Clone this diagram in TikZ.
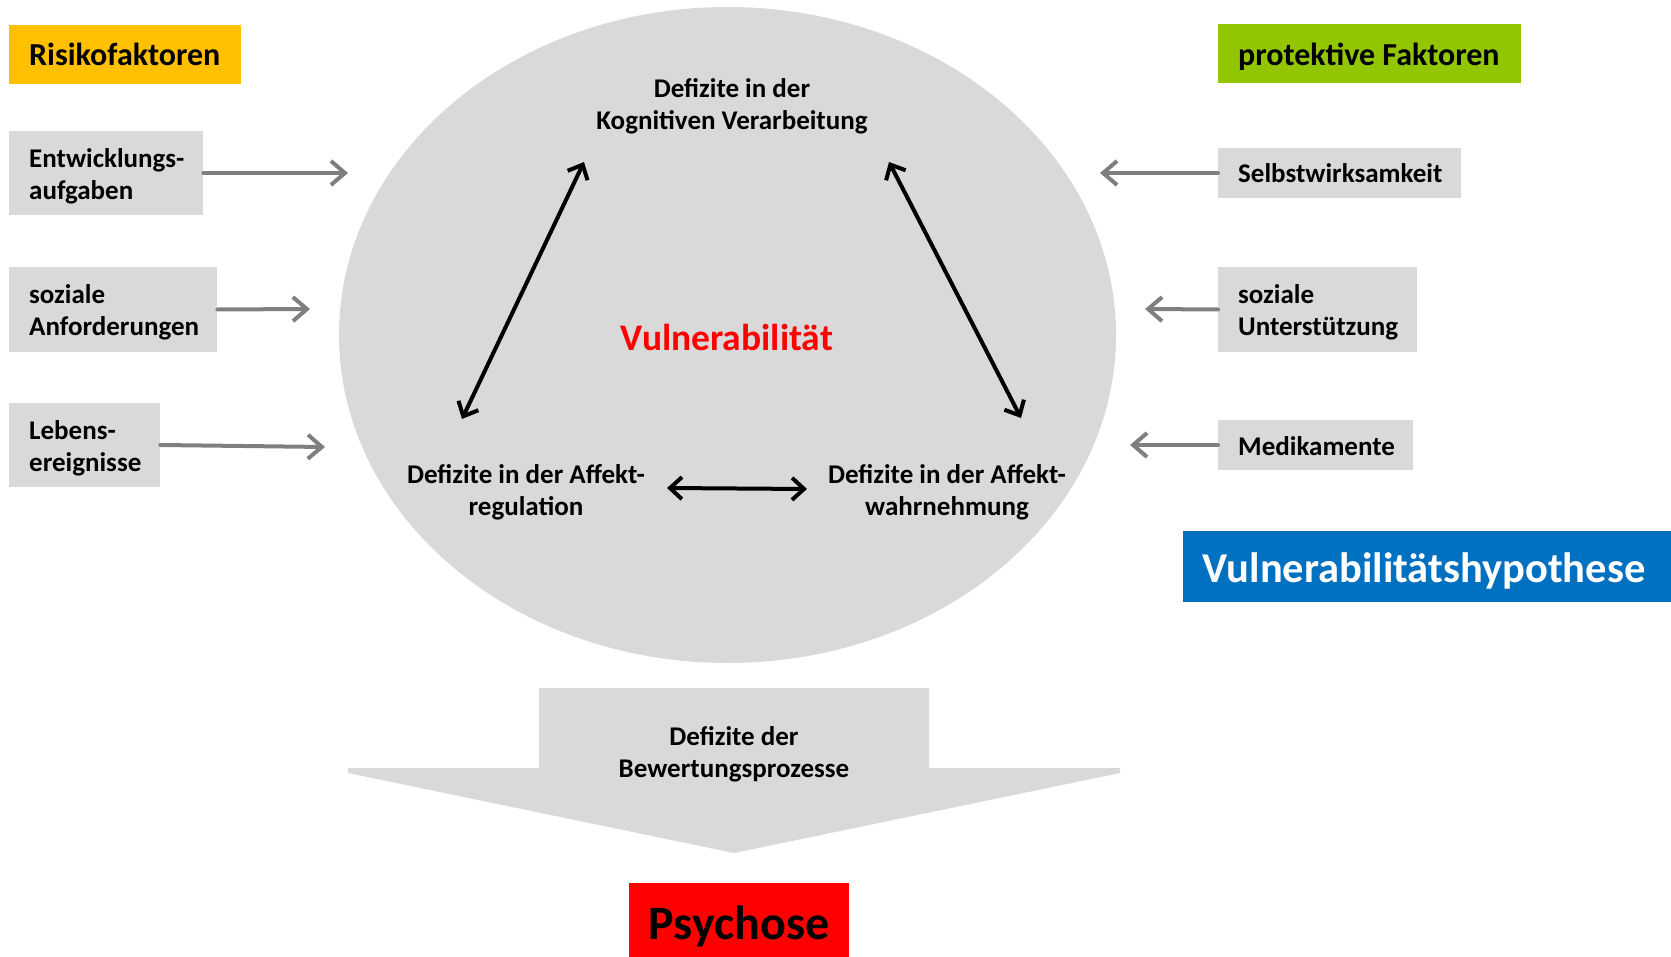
\documentclass[tikz,border=0pt]{standalone}
\usepackage{fontspec}
\setmainfont{Carlito}
\usetikzlibrary{arrows.meta,shapes.geometric}
\definecolor{boxgray}{HTML}{D9D9D9}
\definecolor{arrgray}{HTML}{7F7F7F}
\definecolor{riskyellow}{HTML}{FFC000}
\definecolor{protgreen}{HTML}{92C600}
\definecolor{hypblue}{HTML}{0070C0}
\definecolor{psyred}{HTML}{FF0000}
\begin{document}
\begin{tikzpicture}[x=1pt,y=-1pt,
  txt/.style={font=\bfseries\fontsize{27}{32}\selectfont},
  fbox/.style={inner sep=0pt,anchor=west},
  ftext/.style={txt,inner sep=0pt,align=left,anchor=west},
  htext/.style={font=\bfseries\fontsize{32}{36}\selectfont,inner sep=0pt,anchor=west},
  inner/.style={txt,align=center,inner sep=0pt},
  garrow/.style={draw=arrgray,line width=4pt,line cap=round,-{Straight Barb[length=14pt,width=24pt,line width=4pt]}},
  barrow/.style={draw=black,line width=4pt,{Straight Barb[length=12pt,width=22pt,line width=4pt]}-{Straight Barb[length=12pt,width=22pt,line width=4pt]}}
]
\useasboundingbox (0,0) rectangle (1671,957);
% ellipse
\node[ellipse,fill=boxgray,minimum width=777pt,minimum height=656pt,inner sep=0pt] (ell) at (727.5,335) {};
% headers
\node[fbox,fill=riskyellow,minimum width=232pt,minimum height=59pt] (risk) at (9,54.5) {};
\node[htext] (riskt) at ([xshift=20pt,yshift=0pt]risk.west) {Risikofaktoren};
\node[fbox,fill=protgreen,minimum width=303pt,minimum height=59pt] (prot) at (1218,54) {};
\node[htext] (prott) at ([xshift=20pt,yshift=-3pt]prot.west) {protektive Faktoren};
% left factors
\node[fbox,fill=boxgray,minimum width=194pt,minimum height=84pt] (ent) at (9,173) {};
\node[ftext] (entt) at ([xshift=20pt,yshift=-3pt]ent.west) {Entwicklungs-\\aufgaben};
\node[fbox,fill=boxgray,minimum width=208pt,minimum height=85pt] (soz) at (9,309.5) {};
\node[ftext] (sozt) at ([xshift=20pt,yshift=-3pt]soz.west) {soziale\\Anforderungen};
\node[fbox,fill=boxgray,minimum width=151pt,minimum height=84pt] (leb) at (9,445) {};
\node[ftext] (lebt) at ([xshift=20pt,yshift=-3pt]leb.west) {Lebens-\\ereignisse};
% right factors
\node[fbox,fill=boxgray,minimum width=243pt,minimum height=50pt] (sel) at (1218,173) {};
\node[ftext] (selt) at ([xshift=20pt,yshift=0pt]sel.west) {Selbstwirksamkeit};
\node[fbox,fill=boxgray,minimum width=199pt,minimum height=85pt] (unt) at (1218,309.5) {};
\node[ftext] (untt) at ([xshift=20pt,yshift=-3pt]unt.west) {soziale\\Unterstützung};
\node[fbox,fill=boxgray,minimum width=195pt,minimum height=50pt] (med) at (1218,445) {};
\node[ftext] (medt) at ([xshift=20pt,yshift=-1pt]med.west) {Medikamente};
% hypothesis
\node[fill=hypblue,minimum width=488pt,minimum height=71pt,inner sep=0pt] (hyp) at (1427,566.5) {};
\node[text=white,font=\bfseries\fontsize{42.5}{48}\selectfont,inner sep=0pt] (hypt) at ([xshift=-3pt,yshift=-4pt]hyp.center) {Vulnerabilitätshypothese};
% gray arrows
\coordinate (entT) at (348,173);
\coordinate (sozT) at (310,309);
\coordinate (lebT) at (325,447);
\coordinate (selT) at (1100,173);
\coordinate (untT) at (1145,309);
\coordinate (medT) at (1130,445);
\draw[garrow] (ent.east) -- (entT);
\draw[garrow] (soz.east) -- (sozT);
\draw[garrow] (leb.east) -- (lebT);
\draw[garrow] (sel.west) -- (selT);
\draw[garrow] (unt.west) -- (untT);
\draw[garrow] (med.west) -- (medT);
% inner texts
\node[inner] (kog) at (732,106) {Defizite in der\\Kognitiven Verarbeitung};
\node[inner] (reg) at (526,492) {Defizite in der Affekt-\\regulation};
\node[inner] (wah) at (947,492) {Defizite in der Affekt-\\wahrnehmung};
\node[text=psyred,font=\bfseries\fontsize{37.5}{42}\selectfont,inner sep=0pt] (vul) at (727,337) {Vulnerabilität};
% black arrows
\coordinate (kogL) at (584,162);
\coordinate (kogR) at (889,162);
\coordinate (regT) at (462,419);
\coordinate (regR) at (667,488);
\coordinate (wahT) at (1021,418);
\coordinate (wahL) at (807,489);
\draw[barrow] (kogL) -- (regT);
\draw[barrow] (kogR) -- (wahT);
\draw[barrow] (regR) -- (wahL);
% big arrow
\fill[boxgray] (539,688) -- (929,688) -- (929,768) -- (1120,768) -- (1120,773) -- (734,853) -- (348,773) -- (348,768) -- (539,768) -- cycle;
\node[inner] (bew) at (734,754) {Defizite der\\Bewertungsprozesse};
% psychose
\node[fill=psyred,minimum width=220pt,minimum height=74pt,inner sep=0pt] (psy) at (739,920) {};
\node[font=\bfseries\fontsize{48}{54}\selectfont,inner sep=0pt] (psyt) at ([yshift=-6pt]psy.center) {Psychose};
\end{tikzpicture}
\end{document}
